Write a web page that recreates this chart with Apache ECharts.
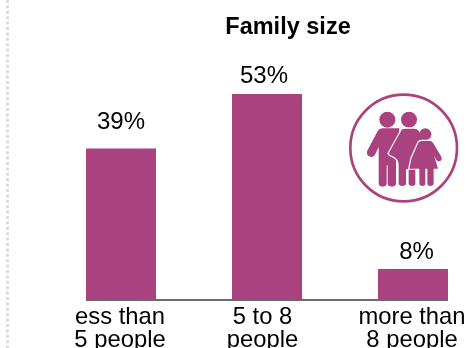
<!DOCTYPE html>
<html>
<head>
<meta charset="utf-8">
<style>html,body{margin:0;padding:0;background:#fff}#chart{width:466px;height:348px}</style>
<script src="https://cdn.jsdelivr.net/npm/echarts@6/dist/echarts.min.js"></script>
</head>
<body>
<div id="chart"></div>
<script>
const categories = ['ess than\n5 people', '5 to 8\npeople', 'more than\n8 people'];
const shares = [39, 53, 8];
const chartTitle = 'Family size';

const plum = '#AB4280';
const ink = '#000000';
const sans = '"Liberation Sans", Arial, sans-serif';

// Hand-placed label nudges, in pixels
const valueLabelNudge = [[0, -6.5], [-3, 2.5], [3.5, 3]];
const tickLabelPadding = [[0, 2, 0, 0], [0, 9, 0, 0], [0, 2, 0, 0]];

// Family pictogram outlines, on a 378x360 local canvas
const father = 'M116 122 Q120 117 128 117 L176 117 L166 200 L166 280 Q166 288 156 288 Q145 288 145 280 L145 224 L138 224 L138 280 Q138 288 128 288 Q118 288 118 280 L118 162 L103 194 Q97 202 88 197 Q80 192 84 182 Z';
const mother = 'M186 118 Q190 116 196 116 L222 116 Q232 116 236 122 L250 150 L226 195 L226 280 Q226 288 216 288 Q206 288 206 280 L206 238 L198 238 L198 280 Q198 288 187 288 Q176 288 176 280 L176 222 Q176 205 150 195 L146 190 Z';
const child = 'M244 153 L270 153 Q276 153 279 158 L304 200 Q308 210 298 214 Q292 216 288 208 L282 196 L294 236 L281 236 L281 280 Q281 288 271 288 Q262 288 262 280 L262 236 L256 236 L256 280 Q256 288 247 288 Q238 288 238 280 L238 236 L208 236 L214 206 L235 158 Q238 153 244 153 Z';

echarts.graphic.registerShape('fatherShape', echarts.graphic.extendPath(father, {}));
echarts.graphic.registerShape('motherShape', echarts.graphic.extendPath(mother, {}));
echarts.graphic.registerShape('childShape', echarts.graphic.extendPath(child, {}));

const chart = echarts.init(document.getElementById('chart'), null, { renderer: 'canvas' });
chart.setOption({
  animation: false,
  backgroundColor: '#ffffff',
  title: {
    text: chartTitle,
    left: 283,
    top: 11,
    textAlign: 'center',
    textStyle: { fontFamily: sans, fontSize: 23.5, fontWeight: 'bold', color: ink }
  },
  grid: { left: 48, top: 40, width: 438, height: 260, outerBoundsMode: 'none' },
  xAxis: {
    type: 'category',
    data: categories.map((c, i) => ({ value: c, textStyle: { padding: tickLabelPadding[i] } })),
    axisLine: { show: false },
    axisTick: { show: false },
    axisLabel: {
      interval: 0,
      margin: 6,
      fontFamily: sans,
      fontSize: 23.8,
      lineHeight: 23,
      color: ink
    }
  },
  yAxis: { type: 'value', min: 0, max: 66.9, show: false, splitLine: { show: false } },
  series: [{
    type: 'bar',
    data: shares.map((v, i) => ({ value: v, label: { offset: valueLabelNudge[i] } })),
    barWidth: 70,
    itemStyle: { color: plum },
    label: {
      show: true,
      position: 'top',
      distance: 8,
      formatter: '{c}%',
      fontFamily: sans,
      fontSize: 24,
      color: ink
    }
  }],
  graphic: [
    // page edge rule on the left
    { type: 'line', silent: true, shape: { x1: 7.5, y1: 0, x2: 7.5, y2: 348 },
      style: { stroke: '#dcdcdc', lineWidth: 3, lineDash: [3, 2.4] } },
    // baseline under the bars
    { type: 'line', silent: true, shape: { x1: 86, y1: 300, x2: 448, y2: 300 },
      style: { stroke: '#3a3a3a', lineWidth: 1.5 } },
    // round badge holding the family pictogram
    {
      type: 'group', silent: true, x: 340, y: 90, scaleX: 1 / 3, scaleY: 1 / 3,
      children: [
        { type: 'circle', shape: { cx: 191, cy: 174, r: 160 }, style: { fill: '#fff', stroke: plum, lineWidth: 8 } },
        { type: 'circle', shape: { cx: 142, cy: 89, r: 24 }, style: { fill: plum } },
        { type: 'fatherShape', style: { fill: plum, stroke: plum, lineWidth: 4 } },
        { type: 'circle', shape: { cx: 207, cy: 89, r: 24 }, style: { fill: plum } },
        { type: 'motherShape', style: { fill: plum, stroke: '#fff', lineWidth: 7, strokeFirst: true } },
        { type: 'circle', shape: { cx: 256, cy: 133, r: 18 }, style: { fill: plum } },
        { type: 'childShape', style: { fill: plum, stroke: '#fff', lineWidth: 7, strokeFirst: true } }
      ]
    }
  ]
});
</script>
</body>
</html>
